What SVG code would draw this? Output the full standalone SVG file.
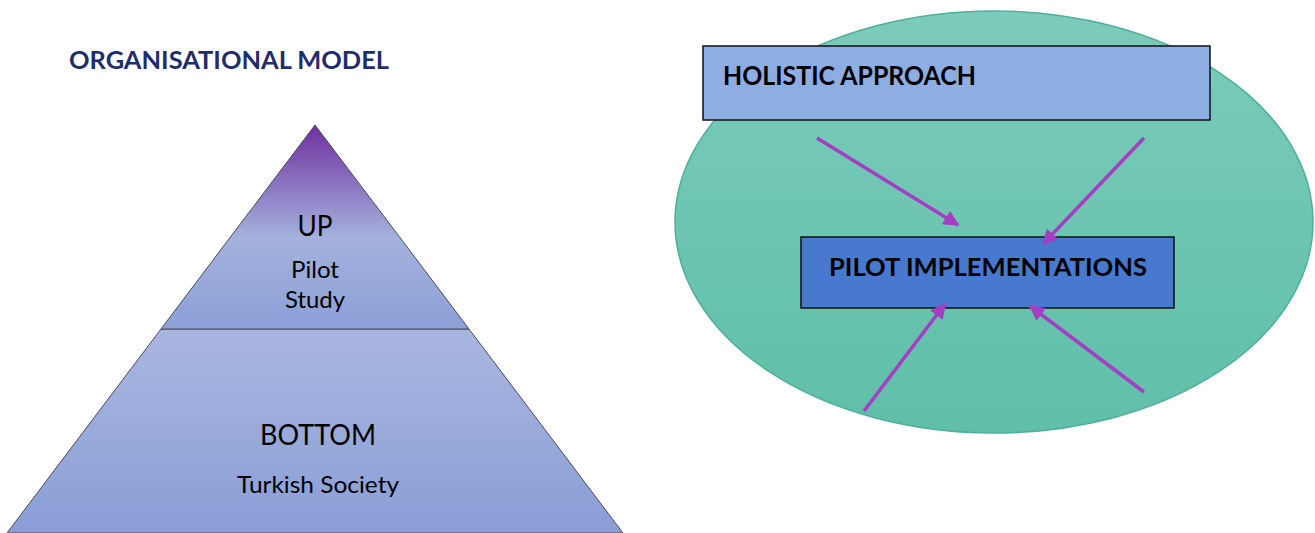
<svg xmlns="http://www.w3.org/2000/svg" width="1315" height="533" viewBox="0 0 1315 533">
<style>
.t{font-family:Lato,"Liberation Sans",sans-serif;fill:#000}
.b{font-family:Lato,"Liberation Sans",sans-serif;font-weight:bold;fill:#000}
.tri{stroke:#4a4a5a;stroke-width:1}
.arr{stroke:#A43EC2;stroke-width:3.5;fill:none;marker-end:url(#ah)}
</style>
<defs>
<linearGradient id="gUp" x1="0" y1="125" x2="0" y2="329" gradientUnits="userSpaceOnUse">
<stop offset="0" stop-color="#7030A0"/>
<stop offset="0.55" stop-color="#A4B1DD"/>
<stop offset="1" stop-color="#8CA0D7"/>
</linearGradient>
<linearGradient id="gBot" x1="0" y1="329" x2="0" y2="533" gradientUnits="userSpaceOnUse">
<stop offset="0" stop-color="#A9B6E0"/>
<stop offset="1" stop-color="#8A9ED6"/>
</linearGradient>
<linearGradient id="gEl" x1="0" y1="0" x2="0" y2="1">
<stop offset="0" stop-color="#7CCBBB"/>
<stop offset="1" stop-color="#5FBFA9"/>
</linearGradient>
<marker id="ah" viewBox="0 0 10 10" refX="9" refY="5" markerWidth="4.5" markerHeight="4.5" orient="auto" markerUnits="strokeWidth">
<path d="M0,0 L10,5 L0,10 z" fill="#A43EC2"/>
</marker>
</defs>
<rect width="1315" height="533" fill="#fff"/>
<text id="title" class="b" x="69" y="69" font-size="25" style="fill:#1F2D6E" textLength="320" lengthAdjust="spacingAndGlyphs">ORGANISATIONAL MODEL</text>
<g id="pyramid-bottom">
<polygon class="tri" points="161,329 469,329 623,533 7,533" fill="url(#gBot)"/>
<text class="t" x="318" y="445" font-size="28" text-anchor="middle" textLength="116" lengthAdjust="spacingAndGlyphs">BOTTOM</text>
<text class="t" x="318" y="493" font-size="23" text-anchor="middle" textLength="162" lengthAdjust="spacingAndGlyphs">Turkish Society</text>
</g>
<g id="pyramid-up">
<polygon class="tri" points="315,125 469,329 161,329" fill="url(#gUp)"/>
<text class="t" x="315" y="236" font-size="29" text-anchor="middle" textLength="35" lengthAdjust="spacingAndGlyphs">UP</text>
<text class="t" x="315" y="278" font-size="23" text-anchor="middle" textLength="48" lengthAdjust="spacingAndGlyphs">Pilot</text>
<text class="t" x="315" y="308" font-size="23" text-anchor="middle" textLength="60" lengthAdjust="spacingAndGlyphs">Study</text>
</g>
<g id="ellipse">
<ellipse cx="994" cy="222" rx="319" ry="211" fill="url(#gEl)" stroke="#4DB097" stroke-width="1.5"/>
</g>
<g id="holistic">
<rect x="703" y="46" width="507" height="74" fill="#8EAEE3" stroke="#111" stroke-width="1.5"/>
<text class="b" x="723" y="85" font-size="26" textLength="253" lengthAdjust="spacingAndGlyphs">HOLISTIC APPROACH</text>
</g>
<g id="pilot">
<rect x="801" y="237" width="373" height="71" fill="#4779CF" stroke="#111" stroke-width="1.5"/>
<text class="b" x="829" y="276" font-size="25" textLength="318" lengthAdjust="spacingAndGlyphs">PILOT IMPLEMENTATIONS</text>
</g>
<g id="connectors">
<line class="arr" x1="817" y1="138" x2="958" y2="225"/>
<line class="arr" x1="1144" y1="138" x2="1043" y2="244"/>
<line class="arr" x1="864" y1="411" x2="945" y2="304"/>
<line class="arr" x1="1144" y1="392" x2="1030" y2="306"/>
</g>
</svg>
